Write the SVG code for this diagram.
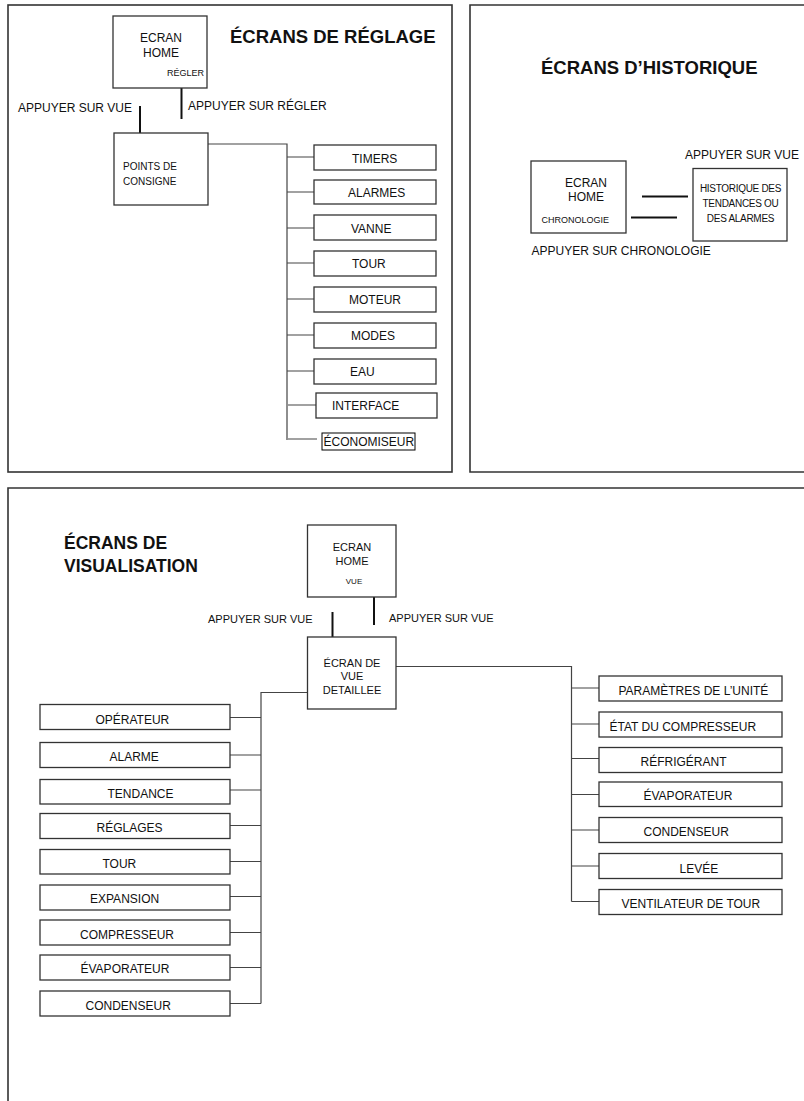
<svg xmlns="http://www.w3.org/2000/svg" width="804" height="1101" viewBox="0 0 804 1101">
<style>
text{font-family:"Liberation Sans",Arial,sans-serif;fill:#111}
.panel{fill:none;stroke:#333;stroke-width:1.6}
.box{fill:#fff;stroke:#333;stroke-width:1.3}
.thin{fill:#fff;stroke:#000;stroke-width:1}
.t12{font-size:12px}
.t11{font-size:11px}
.t10{font-size:10px}
.t9{font-size:9px}
.t8{font-size:8px}
.title{font-size:18.5px;font-weight:bold}
.mid{text-anchor:middle}
.thick{stroke:#111;stroke-width:2;fill:none}
.conn{stroke:#444;stroke-width:1.2;fill:none}
</style>
<rect x="0" y="0" width="804" height="1101" fill="#fff"/>
<g id="panels">
<rect class="panel" x="8" y="5" width="444" height="467"/>
<path class="panel" d="M806,5 H470 V472 H806"/>
<path class="panel" d="M806,488 H8 V1104"/>
</g>
<g id="titles">
<text class="title" x="230" y="43">ÉCRANS DE RÉGLAGE</text>
<text class="title" x="541" y="74">ÉCRANS D’HISTORIQUE</text>
<text class="title" x="64" y="549" style="font-size:17.5px">ÉCRANS DE</text>
<text class="title" x="64" y="572" style="font-size:17.5px">VISUALISATION</text>
</g>
<g id="connectors">
<line class="thick" x1="140" y1="106" x2="140" y2="133"/>
<line class="thick" x1="181.5" y1="88" x2="181.5" y2="119"/>
<path class="conn" d="M208,144 H287 V440"/>
<path class="conn" d="M287,157 H314 M287,192 H314 M287,228 H314 M287,263 H314 M287,299 H314 M287,335 H314 M287,371 H314 M288,405 H316 M288,439 H317"/>
<line class="thick" x1="642" y1="196.5" x2="688" y2="196.5"/>
<line class="thick" x1="631" y1="217.5" x2="677" y2="217.5"/>
<line class="thick" x1="374" y1="597" x2="374" y2="625"/>
<line class="thick" x1="332.5" y1="612" x2="332.5" y2="637"/>
<path class="conn" d="M396,666.5 H571.5 V901.5"/>
<path class="conn" d="M571.5,688 H599 M571.5,724 H599 M571.5,758.5 H599 M571.5,794.5 H599 M571.5,830 H599 M571.5,866 H599 M571.5,901.5 H599"/>
<path class="conn" d="M307,692.5 H261 V1003.5"/>
<path class="conn" d="M230,717.5 H261 M230,755 H261 M230,790 H261 M230,825.5 H261 M230,861.5 H261 M230,896.5 H261 M230,932.5 H261 M230,967.5 H261 M230,1003.5 H261"/>
</g>
<g id="labels">
<text class="t12" x="18" y="112">APPUYER SUR VUE</text>
<text class="t12" x="188" y="110">APPUYER SUR RÉGLER</text>
<text class="t12" x="685" y="159">APPUYER SUR VUE</text>
<text class="t12" x="531.5" y="255">APPUYER SUR CHRONOLOGIE</text>
<text class="t11" x="208" y="623">APPUYER SUR VUE</text>
<text class="t11" x="389" y="621.5">APPUYER SUR VUE</text>
</g>
<g id="home-reglage">
<rect class="box" x="113" y="16" width="94" height="72"/>
<text class="t12 mid" x="161" y="42">ECRAN</text>
<text class="t12 mid" x="161" y="57">HOME</text>
<text class="t9" x="167" y="76">RÉGLER</text>
</g>
<g id="points-consigne">
<rect class="box" x="114" y="133" width="94" height="72"/>
<text class="t10" x="123" y="170">POINTS DE</text>
<text class="t10" x="123" y="185">CONSIGNE</text>
</g>
<g id="timers"><rect class="box" x="314" y="145" width="122" height="25"/><text class="t12" x="352" y="162.5">TIMERS</text></g>
<g id="alarmes"><rect class="box" x="314" y="180" width="122" height="24"/><text class="t12" x="348" y="197">ALARMES</text></g>
<g id="vanne"><rect class="box" x="314" y="215" width="122" height="25"/><text class="t12" x="351" y="232.5">VANNE</text></g>
<g id="tour-r"><rect class="box" x="314" y="251" width="122" height="25"/><text class="t12" x="352" y="268">TOUR</text></g>
<g id="moteur"><rect class="box" x="314" y="287" width="122" height="25"/><text class="t12" x="349" y="304">MOTEUR</text></g>
<g id="modes"><rect class="box" x="314" y="323" width="122" height="25"/><text class="t12" x="351" y="340">MODES</text></g>
<g id="eau"><rect class="box" x="314" y="359" width="122" height="25"/><text class="t12" x="350" y="376">EAU</text></g>
<g id="interface"><rect class="box" x="316" y="393" width="121" height="25"/><text class="t12" x="332" y="410">INTERFACE</text></g>
<g id="economiseur"><rect class="thin" x="322" y="433" width="93" height="17"/><text class="t12" x="323.5" y="446">ÉCONOMISEUR</text></g>
<g id="home-historique">
<rect class="box" x="531" y="161" width="95" height="72"/>
<text class="t12 mid" x="586" y="187">ECRAN</text>
<text class="t12 mid" x="586" y="201">HOME</text>
<text class="t9" x="541.5" y="222.5">CHRONOLOGIE</text>
</g>
<g id="historique">
<rect class="box" x="693" y="168.5" width="94" height="72.5"/>
<text class="t10 mid" x="740.5" y="191.5" style="letter-spacing:-0.3px">HISTORIQUE DES</text>
<text class="t10 mid" x="740.5" y="206.5" style="letter-spacing:-0.3px">TENDANCES OU</text>
<text class="t10 mid" x="740.5" y="221.5" style="letter-spacing:-0.3px">DES ALARMES</text>
</g>
<g id="home-vue">
<rect class="box" x="307.5" y="525" width="88.5" height="72"/>
<text class="t11 mid" x="352" y="550.5">ECRAN</text>
<text class="t11 mid" x="352" y="565">HOME</text>
<text class="t8 mid" x="354" y="584">VUE</text>
</g>
<g id="vue-detaillee">
<rect class="box" x="307.5" y="637" width="88.5" height="72"/>
<text class="t11 mid" x="352" y="666.5">ÉCRAN DE</text>
<text class="t11 mid" x="352" y="680">VUE</text>
<text class="t11 mid" x="352" y="693.5">DETAILLEE</text>
</g>
<g id="operateur"><rect class="box" x="40" y="704.5" width="190" height="25"/><text class="t12" x="95.5" y="724">OPÉRATEUR</text></g>
<g id="alarme"><rect class="box" x="40" y="742.5" width="190" height="25"/><text class="t12" x="109.5" y="761">ALARME</text></g>
<g id="tendance"><rect class="box" x="40" y="779.5" width="190" height="24.5"/><text class="t12" x="107.5" y="797.5">TENDANCE</text></g>
<g id="reglages"><rect class="box" x="40" y="813.5" width="190" height="25"/><text class="t12" x="96.5" y="832">RÉGLAGES</text></g>
<g id="tour-v"><rect class="box" x="40" y="849.5" width="190" height="24.5"/><text class="t12" x="102.5" y="867.5">TOUR</text></g>
<g id="expansion"><rect class="box" x="40" y="885" width="190" height="25"/><text class="t12" x="90" y="903">EXPANSION</text></g>
<g id="compresseur"><rect class="box" x="40" y="920" width="190" height="25"/><text class="t12" x="80" y="939">COMPRESSEUR</text></g>
<g id="evaporateur-l"><rect class="box" x="40" y="955" width="190" height="25"/><text class="t12" x="80.5" y="973">ÉVAPORATEUR</text></g>
<g id="condenseur-l"><rect class="box" x="40" y="991" width="190" height="25"/><text class="t12" x="85.5" y="1009.5">CONDENSEUR</text></g>
<g id="parametres"><rect class="box" x="599" y="676" width="183" height="25"/><text class="t12" x="618.5" y="695">PARAMÈTRES DE L’UNITÉ</text></g>
<g id="etat"><rect class="box" x="599" y="712" width="183" height="25"/><text class="t12" x="609.5" y="730.5">ÉTAT DU COMPRESSEUR</text></g>
<g id="refrigerant"><rect class="box" x="599" y="747.5" width="183" height="25"/><text class="t12" x="640.5" y="766">RÉFRIGÉRANT</text></g>
<g id="evaporateur-r"><rect class="box" x="599" y="782" width="183" height="24.5"/><text class="t12" x="643.5" y="800">ÉVAPORATEUR</text></g>
<g id="condenseur-r"><rect class="box" x="599" y="817.5" width="183" height="25"/><text class="t12" x="643.5" y="835.5">CONDENSEUR</text></g>
<g id="levee"><rect class="box" x="599" y="853.5" width="183" height="25"/><text class="t12" x="679.5" y="872.5">LEVÉE</text></g>
<g id="ventilateur"><rect class="box" x="599" y="889.5" width="183" height="25"/><text class="t12" x="621.5" y="908">VENTILATEUR DE TOUR</text></g>
</svg>
